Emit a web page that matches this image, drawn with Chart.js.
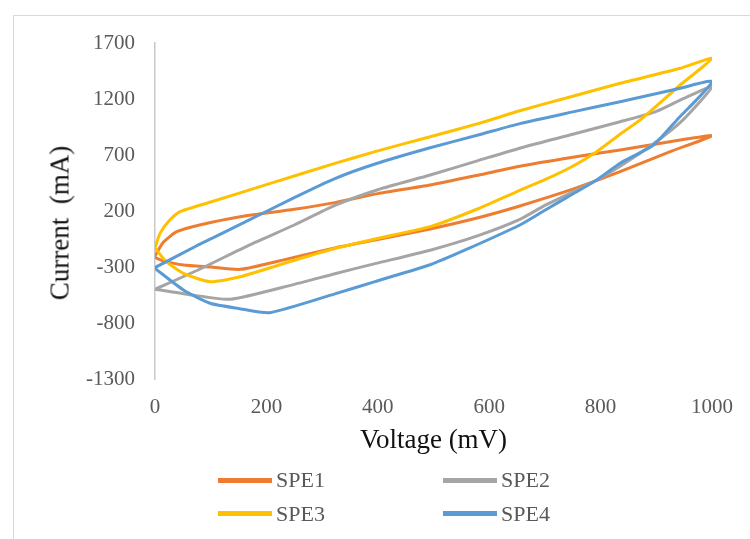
<!DOCTYPE html>
<html>
<head>
<meta charset="utf-8">
<script src="https://cdn.jsdelivr.net/npm/chart.js@4"></script>
<style>
    body { margin: 0; background: #fff; overflow: hidden; }
    #wrap { position: relative; width: 750px; height: 539px; }
    #frame { position: absolute; left: 13px; top: 15px; width: 800px; height: 600px; border: 1.5px solid #d9d9d9; }
    #chart { position: absolute; left: 0; top: 0; }
    #yTitle { position: absolute; left: 60px; top: 223px; transform: translate(-50%, -50%) rotate(-90deg);
              white-space: pre; font: 27px "Liberation Serif", serif; color: #111; line-height: 1; }
    #legend { position: absolute; left: 218px; top: 468px; display: grid;
              grid-template-columns: 225px 120px; row-gap: 9.5px; }
    .item { display: flex; align-items: center; height: 24px; font: 22px "Liberation Serif", serif; color: #595959; }
    .swatch { width: 54px; height: 5px; margin-right: 4px; }
</style>
</head>
<body>
<div id="wrap">
    <div id="frame"></div>
    <canvas id="chart" width="750" height="539"></canvas>
    <div id="yTitle">Current  (mA)</div>
    <div id="legend"></div>
</div>
<script>
// tick values
const xTicks = [0, 200, 400, 600, 800, 1000];
const yTicks = [-1300, -800, -300, 200, 700, 1200, 1700];

// series names and colours
const seriesNames = ["SPE1", "SPE2", "SPE3", "SPE4"];
const seriesColors = ["#ED7D31", "#A5A5A5", "#FFC000", "#5B9BD5"];

// SPE1 loop (voltage mV, current mA)
const spe1V = [0, 15, 39, 80, 153, 250, 323, 400, 494, 580, 655, 750, 835, 943, 1000,
               925, 835, 750, 655, 580, 494, 395, 323, 240, 153, 100, 51, 15, 0];
const spe1I = [-200, -80, 15, 75, 149, 215, 275, 355, 432, 520, 600, 680, 745, 834, 872,
               730, 551, 395, 245, 140, 40, -59, -130, -225, -321, -300, -282, -245, -215];

// SPE2 loop
const spe2V = [0, 80, 171, 250, 323, 400, 494, 580, 664, 750, 835, 900, 943, 1000,
               948, 895, 835, 793, 750, 700, 655, 580, 494, 395, 323, 250, 135, 60, 0];
const spe2I = [-499, -320, -100, 75, 250, 390, 521, 650, 774, 885, 997, 1090, 1190, 1310,
               1013, 800, 600, 477, 370, 250, 125, -20, -150, -270, -360, -455, -588, -545, -499];

// SPE3 loop
const spe3V = [0, 9, 25, 45, 100, 200, 323, 395, 494, 580, 655, 750, 835, 943, 1000,
               943, 871, 835, 793, 750, 700, 655, 580, 494, 395, 323, 250, 153, 99, 51, 20, 0];
const spe3I = [-130, 0, 110, 194, 280, 435, 625, 730, 863, 980, 1095, 1225, 1340, 1474, 1563,
               1325, 1013, 885, 730, 600, 480, 385, 220, 60, -50, -135, -240, -387, -431, -356, -250, -130];

// SPE4 loop
const spe4V = [0, 75, 153, 250, 323, 395, 494, 580, 655, 750, 835, 943, 1000,
               937, 895, 835, 793, 750, 700, 655, 557, 494, 395, 323, 206, 150, 99, 51, 0];
const spe4I = [-305, -110, 80, 320, 490, 620, 765, 878, 980, 1085, 1176, 1296, 1354,
               1013, 789, 626, 477, 352, 207, 75, -148, -280, -430, -540, -708, -670, -624, -505, -312];

const allV = [spe1V, spe2V, spe3V, spe4V];
const allI = [spe1I, spe2I, spe3I, spe4I];

function toPoints(vs, is) {
    return vs.map((v, i) => ({ x: v, y: is[i] }));
}

const tickFont = { family: "Liberation Serif", size: 21 };

const datasets = seriesNames.map((name, k) => ({
    label: name,
    data: toPoints(allV[k], allI[k]),
    showLine: true,
    borderColor: seriesColors[k],
    backgroundColor: seriesColors[k],
    borderWidth: 3,
    pointRadius: 0,
    tension: 0.2,
    fill: false,
    borderJoinStyle: "round",
    borderCapStyle: "round",
    order: seriesNames.length - 1 - k   // last series on top, like Excel
}));

const chart = new Chart(document.getElementById("chart").getContext("2d"), {
    type: "scatter",
    data: { datasets: datasets },
    options: {
        responsive: false,
        animation: false,
        layout: { padding: { left: 10, right: 38, top: 43, bottom: 80 } },
        plugins: {
            legend: { display: false },
            tooltip: { enabled: false }
        },
        scales: {
            x: {
                type: "linear",
                min: xTicks[0],
                max: xTicks[xTicks.length - 1],
                afterBuildTicks: s => { s.ticks = xTicks.map(v => ({ value: v })); },
                afterFit: s => { s.height = 80; },
                grid: { display: false, drawTicks: false },
                border: { display: false },
                ticks: { padding: 16, color: "#595959", font: tickFont, callback: v => String(v) },
                title: {
                    display: true,
                    text: "Voltage (mV)",
                    color: "#111",
                    font: { family: "Liberation Serif", size: 27 },
                    padding: { top: 0, bottom: 2 }
                }
            },
            y: {
                type: "linear",
                min: yTicks[0],
                max: yTicks[yTicks.length - 1],
                afterBuildTicks: s => { s.ticks = yTicks.map(v => ({ value: v })); },
                afterFit: s => { s.width = 145; },
                grid: { display: false, drawTicks: false },
                border: { display: true, color: "#c8c8c8", width: 1.5 },
                ticks: { padding: 20, color: "#595959", font: tickFont, callback: v => String(v) }
            }
        }
    }
});

// legend in two columns, built from the chart's datasets
const legendEl = document.getElementById("legend");
chart.data.datasets.forEach(ds => {
    const item = document.createElement("div");
    item.className = "item";
    const sw = document.createElement("span");
    sw.className = "swatch";
    sw.style.background = ds.borderColor;
    item.appendChild(sw);
    item.appendChild(document.createTextNode(ds.label));
    legendEl.appendChild(item);
});
</script>
</body>
</html>
